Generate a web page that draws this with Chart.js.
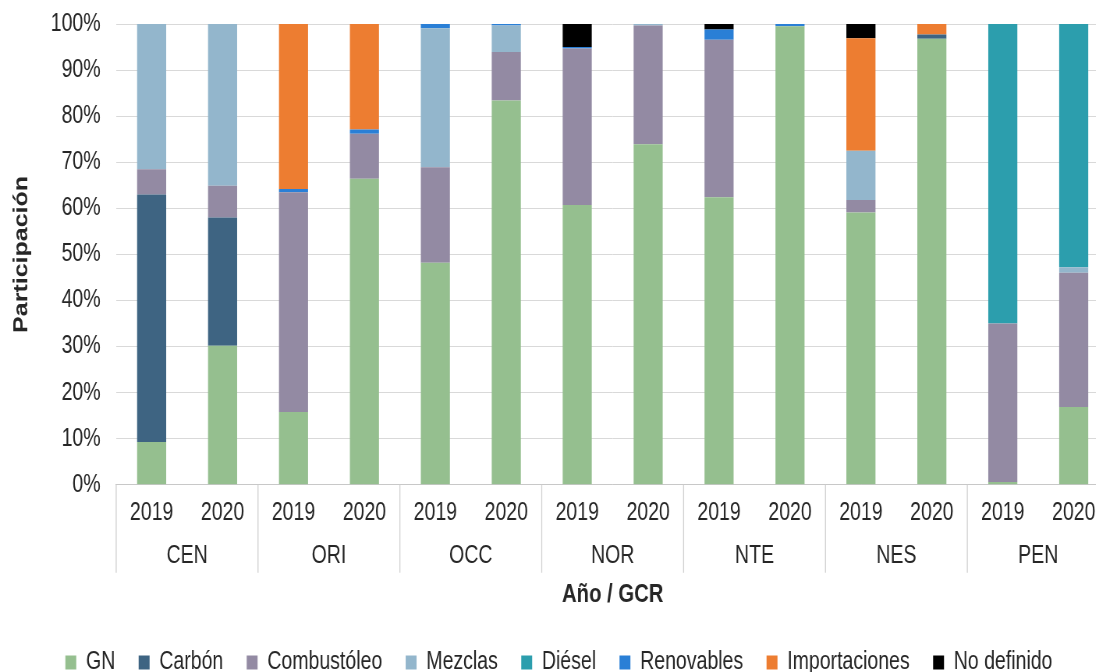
<!DOCTYPE html>
<html>
<head>
<meta charset="utf-8">
<script src="https://cdn.jsdelivr.net/npm/chart.js@4/dist/chart.umd.min.js"></script>
<style>
  html, body { margin: 0; padding: 0; background: #fff; overflow: hidden; }
  /* the source figure uses a narrow face; squeeze the whole drawing horizontally */
  #wrap { width: 1423px; height: 672px; transform: scaleX(0.78); transform-origin: 0 0; }
  #chart { display: block; }
</style>
</head>
<body>
<div id="wrap"><canvas id="chart" width="1423" height="672"></canvas></div>
<script>
// categories
const years = ['2019', '2020', '2019', '2020', '2019', '2020', '2019', '2020', '2019', '2020', '2019', '2020', '2019', '2020'];
const regions = ['CEN', 'ORI', 'OCC', 'NOR', 'NTE', 'NES', 'PEN'];

// share per fuel (%), one value per year/region bar
const gn            = [9.3, 30.2, 15.8, 66.4, 48.2, 83.4, 60.7, 73.9, 62.4, 99.5, 59.1, 96.8, 0.6, 16.9];
const carbon        = [53.7, 27.8, 0, 0, 0, 0, 0, 0, 0, 0, 0, 0.9, 0, 0];
const combustoleo   = [5.5, 6.9, 47.7, 9.8, 20.7, 10.5, 34.0, 25.8, 34.2, 0, 2.7, 0, 34.4, 29.1];
const mezclas       = [31.5, 35.1, 0, 0, 30.2, 5.8, 0, 0.3, 0, 0, 10.7, 0, 0, 1.2];
const diesel        = [0, 0, 0, 0, 0, 0, 0, 0, 0, 0, 0, 0, 65.0, 52.8];
const renovables    = [0, 0, 0.7, 0.9, 0.9, 0.3, 0.3, 0, 2.2, 0.5, 0, 0, 0, 0];
const importaciones = [0, 0, 35.8, 22.9, 0, 0, 0, 0, 0, 0, 24.4, 2.3, 0, 0];
const noDefinido    = [0, 0, 0, 0, 0, 0, 5.0, 0, 1.2, 0, 3.1, 0, 0, 0];

const yTicks = [0, 10, 20, 30, 40, 50, 60, 70, 80, 90, 100];

const sans = "'Liberation Sans', Arial, sans-serif";
const textColor = '#262626';

function ds(label, data, color) {
    return {
        label: label,
        data: data,
        backgroundColor: color,
        borderWidth: 0,
        stack: 'a',
        categoryPercentage: 1,
        barPercentage: 0.41
    };
}

// vertical separators between the region groups, from the axis down through both label rows
const groupLines = {
    id: 'groupLines',
    afterDraw(chart) {
        const x2 = chart.scales.x2;
        const ctx = chart.ctx;
        const step = x2.width / regions.length;
        const y0 = chart.chartArea.bottom;
        ctx.save();
        ctx.strokeStyle = '#d0d0d0';
        ctx.lineWidth = 1.3;
        ctx.beginPath();
        for (let i = 0; i <= regions.length; i++) {
            const px = x2.left + i * step;
            ctx.moveTo(px, y0);
            ctx.lineTo(px, y0 + 88);
        }
        ctx.stroke();
        ctx.restore();
    }
};

new Chart(document.getElementById('chart').getContext('2d'), {
    type: 'bar',
    data: {
        labels: years,
        datasets: [
            ds('GN', gn, '#95bf8f'),
            ds('Carbón', carbon, '#3e6482'),
            ds('Combustóleo', combustoleo, '#938aa3'),
            ds('Mezclas', mezclas, '#93b6cc'),
            ds('Diésel', diesel, '#2c9ead'),
            ds('Renovables', renovables, '#2a7fd6'),
            ds('Importaciones', importaciones, '#ed7d31'),
            ds('No definido', noDefinido, '#000000')
        ]
    },
    options: {
        responsive: false,
        animation: false,
        layout: {
            padding: { top: 24, left: 11, right: 1, bottom: -13 }
        },
        plugins: {
            legend: {
                position: 'bottom',
                labels: {
                    boxWidth: 14,
                    boxHeight: 14,
                    padding: 30,
                    color: textColor,
                    font: { family: sans, size: 25 }
                }
            },
            tooltip: { enabled: false }
        },
        scales: {
            x: {
                stacked: true,
                grid: { display: false, drawTicks: false },
                border: { display: true, color: '#c8c8c8' },
                ticks: {
                    padding: 13,
                    maxRotation: 0,
                    autoSkip: false,
                    color: textColor,
                    font: { family: sans, size: 25 }
                }
            },
            x2: {
                type: 'category',
                position: 'bottom',
                labels: regions,
                offset: true,
                grid: { display: false, drawTicks: false },
                border: { display: false },
                ticks: {
                    padding: 0,
                    maxRotation: 0,
                    autoSkip: false,
                    color: textColor,
                    font: { family: sans, size: 25 }
                },
                title: {
                    display: true,
                    text: 'Año / GCR',
                    color: textColor,
                    padding: { top: 8, bottom: 10 },
                    font: { family: sans, size: 26, weight: 'bold' }
                }
            },
            y: {
                stacked: true,
                min: 0,
                max: 100,
                afterBuildTicks(axis) {
                    axis.ticks = yTicks.map(v => ({ value: v }));
                },
                // tick padding would otherwise push the plot top down
                afterFit(axis) {
                    axis.paddingTop = 15;
                },
                grid: { color: '#d9d9d9', drawTicks: false },
                border: { display: false },
                ticks: {
                    padding: 20,
                    color: textColor,
                    font: { family: sans, size: 25 },
                    callback: v => v + '%'
                },
                title: {
                    display: true,
                    text: 'Participación',
                    color: textColor,
                    padding: 2,
                    font: { family: sans, size: 25, weight: 'bold' }
                }
            }
        }
    },
    plugins: [groupLines]
});
</script>
</body>
</html>
